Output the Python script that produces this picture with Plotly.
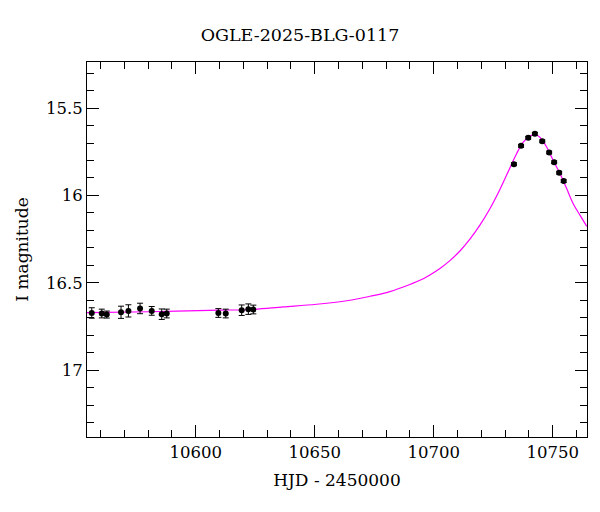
import plotly.graph_objects as go

# Observed photometry (HJD - 2450000, I magnitude, error)
obs_t = [10556.3, 10560.5, 10562.6, 10568.6, 10571.7, 10576.6, 10581.5, 10585.7, 10587.8,
         10609.5, 10612.6, 10619.3, 10622.1, 10624.2,
         10733.7, 10736.7, 10739.7, 10742.5, 10745.6, 10748.5, 10750.6, 10752.7, 10754.6]
obs_mag = [16.673, 16.676, 16.682, 16.669, 16.661, 16.647, 16.661, 16.680, 16.676,
           16.673, 16.676, 16.657, 16.651, 16.653,
           15.821, 15.716, 15.670, 15.647, 15.690, 15.754, 15.810, 15.870, 15.918]
obs_err = [0.03, 0.025, 0.02, 0.035, 0.035, 0.03, 0.025, 0.03, 0.025,
           0.025, 0.025, 0.03, 0.03, 0.025,
           0.008, 0.008, 0.008, 0.008, 0.008, 0.008, 0.008, 0.008, 0.008]

# Model curve
model_t = [10554.3, 10580.8, 10610.2, 10622.8, 10636.8, 10650.8, 10664.8, 10673.2, 10680.2,
           10687.2, 10694.2, 10698.4, 10702.6, 10706.8, 10711.0, 10715.2, 10719.4, 10723.6,
           10727.8, 10732.0, 10734.8, 10737.6, 10740.4, 10742.5, 10744.6, 10747.5, 10750.2,
           10753.1, 10755.9, 10758.6, 10761.5, 10764.3]
model_mag = [16.671, 16.666, 16.657, 16.653, 16.638, 16.623, 16.600, 16.577, 16.556,
             16.524, 16.486, 16.455, 16.418, 16.373, 16.318, 16.250, 16.170, 16.076,
             15.966, 15.843, 15.761, 15.695, 15.661, 15.651, 15.667, 15.724, 15.800,
             15.876, 15.962, 16.047, 16.114, 16.177]

x_range = [10554.3, 10764.4]
y_range = [17.383, 15.236]
x_ticks = [10600, 10650, 10700, 10750]
y_ticks = [15.5, 16, 16.5, 17]
y_ticklabels = ["15.5", "16", "16.5", "17"]

FONT = "DejaVu Serif"

fig = go.Figure()
fig.add_trace(go.Scatter(
    x=model_t, y=model_mag, mode="lines", line=dict(color="#ff00ff", width=1.2, shape="spline", smoothing=1.0),
    hoverinfo="skip", showlegend=False))
fig.add_trace(go.Scatter(
    x=obs_t, y=obs_mag, mode="markers",
    marker=dict(color="black", size=6, symbol="circle"),
    error_y=dict(type="data", array=obs_err, color="black", thickness=1, width=3),
    showlegend=False))

axis_common = dict(
    showgrid=False, zeroline=False, showline=True, linecolor="black", linewidth=1,
    mirror="allticks", ticks="inside", tickcolor="black", ticklen=12, tickwidth=1,
    tickfont=dict(family=FONT, size=16.5, color="black"),
)

fig.update_xaxes(
    range=x_range, tickvals=x_ticks, ticktext=[str(v) for v in x_ticks],
    minor=dict(ticks="inside", ticklen=7, tickcolor="black", dtick=10, tick0=10550, showgrid=False),
    title=dict(text="HJD - 2450000", font=dict(family=FONT, size=17, color="black"), standoff=13),
    **axis_common)
fig.update_yaxes(
    range=y_range, tickvals=y_ticks, ticktext=y_ticklabels,
    minor=dict(ticks="inside", ticklen=7, tickcolor="black", dtick=0.1, tick0=15.0, showgrid=False),
    title=dict(text="I magnitude", font=dict(family=FONT, size=17, color="black"), standoff=13),
    **axis_common)

fig.update_layout(
    width=600, height=512,
    margin=dict(l=87, r=13, t=62, b=75),
    paper_bgcolor="white", plot_bgcolor="white",
    title=dict(text="OGLE-2025-BLG-0117", x=0.5, xanchor="center", y=1 - 35 / 512, yanchor="middle",
               font=dict(family=FONT, size=17.5, color="black")),
)

fig.write_html("out.html", config={"displayModeBar": False},
               post_script="document.body.style.margin='0';")
